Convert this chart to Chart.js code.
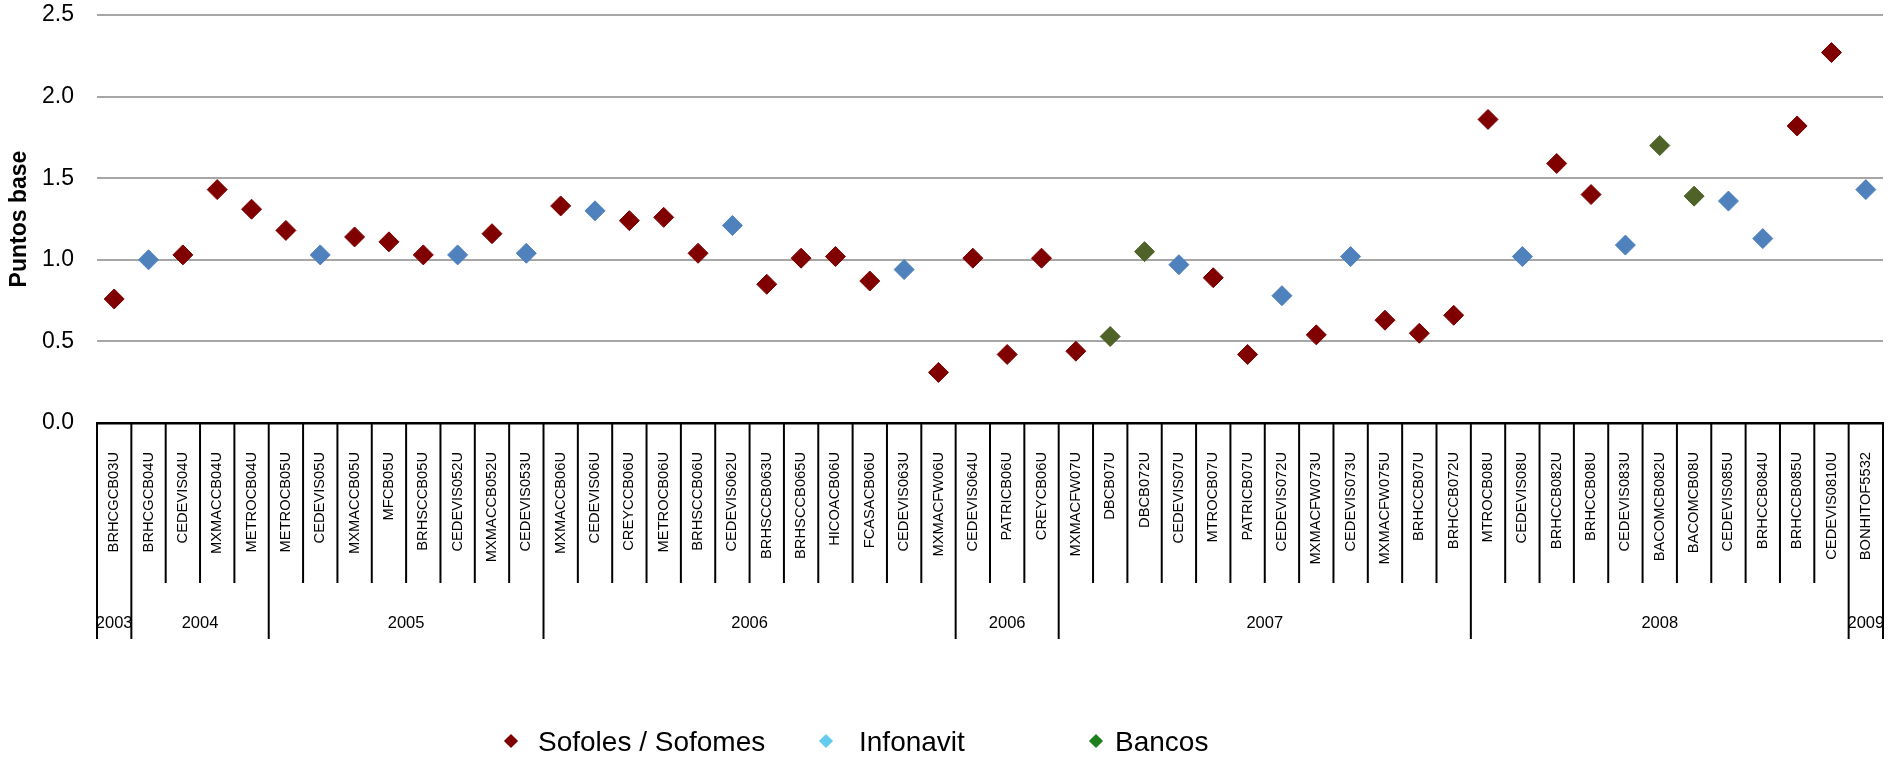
<!DOCTYPE html>
<html lang="es">
<head>
<meta charset="utf-8">
<title>Puntos base por emisión</title>
<script src="https://cdn.jsdelivr.net/npm/chart.js@4.4.1/dist/chart.umd.min.js"></script>
<style>
  html, body { margin: 0; padding: 0; background: #fff; }
  #wrap { position: relative; width: 1894px; height: 760px; overflow: hidden; }
  #chart { position: absolute; left: 0; top: 0; }
  .legend-item { position: absolute; top: 726px; height: 32px; font: 28px "Liberation Sans", Arial, sans-serif; color: #000; line-height: 32px; white-space: nowrap; }
  .legend-mark { position: absolute; width: 10px; height: 10px; transform: rotate(45deg); }
</style>
</head>
<body>
<div id="wrap">
  <canvas id="chart" width="1894" height="760"></canvas>
  <div id="legend"></div>
</div>
<script>
// Emisiones (eje de categorías)
const categories = [
  'BRHCGCB03U', 'BRHCGCB04U', 'CEDEVIS04U', 'MXMACCB04U', 'METROCB04U',
  'METROCB05U', 'CEDEVIS05U', 'MXMACCB05U', 'MFCB05U', 'BRHSCCB05U', 'CEDEVIS052U', 'MXMACCB052U', 'CEDEVIS053U',
  'MXMACCB06U', 'CEDEVIS06U', 'CREYCCB06U', 'METROCB06U', 'BRHSCCB06U', 'CEDEVIS062U', 'BRHSCCB063U', 'BRHSCCB065U',
  'HICOACB06U', 'FCASACB06U', 'CEDEVIS063U', 'MXMACFW06U',
  'CEDEVIS064U', 'PATRICB06U', 'CREYCB06U',
  'MXMACFW07U', 'DBCB07U', 'DBCB072U', 'CEDEVIS07U', 'MTROCB07U', 'PATRICB07U', 'CEDEVIS072U', 'MXMACFW073U',
  'CEDEVIS073U', 'MXMACFW075U', 'BRHCCB07U', 'BRHCCB072U',
  'MTROCB08U', 'CEDEVIS08U', 'BRHCCB082U', 'BRHCCB08U', 'CEDEVIS083U', 'BACOMCB082U', 'BACOMCB08U', 'CEDEVIS085U',
  'BRHCCB084U', 'BRHCCB085U', 'CEDEVIS0810U',
  'BONHITOF5532'
];

// Segundo nivel del eje: año y número de emisiones de cada grupo
const yearLabels = ['2003', '2004', '2005', '2006', '2006', '2007', '2008', '2009'];
const yearCounts = [1, 4, 8, 12, 3, 12, 11, 1];

// Puntos base por tipo de emisor (null = emisión de otro tipo)
const sofoles = [
  0.76, null, 1.03, 1.43, 1.31,
  1.18, null, 1.14, 1.11, 1.03, null, 1.16, null,
  1.33, null, 1.24, 1.26, 1.04, null, 0.85, 1.01,
  1.02, 0.87, null, 0.31,
  1.01, 0.42, 1.01,
  0.44, null, null, null, 0.89, 0.42, null, 0.54,
  null, 0.63, 0.55, 0.66,
  1.86, null, 1.59, 1.40, null, null, null, null,
  null, 1.82, 2.27,
  null
];
const infonavit = [
  null, 1.00, null, null, null,
  null, 1.03, null, null, null, 1.03, null, 1.04,
  null, 1.30, null, null, null, 1.21, null, null,
  null, null, 0.94, null,
  null, null, null,
  null, null, null, 0.97, null, null, 0.78, null,
  1.02, null, null, null,
  null, 1.02, null, null, 1.09, null, null, 1.36,
  1.13, null, null,
  1.43
];
const bancos = [
  null, null, null, null, null,
  null, null, null, null, null, null, null, null,
  null, null, null, null, null, null, null, null,
  null, null, null, null,
  null, null, null,
  null, 0.53, 1.05, null, null, null, null, null,
  null, null, null, null,
  null, null, null, null, null, 1.70, 1.39, null,
  null, null, null,
  null
];

// Ejes y leyenda
const yTicks = ['0.0', '0.5', '1.0', '1.5', '2.0', '2.5'];
const yTitle = 'Puntos base';
const seriesNames = ['Sofoles / Sofomes', 'Infonavit', 'Bancos'];

const COLORS = {
  sofoles: '#800000',
  infonavit: '#4F81BD',
  bancos: '#4F6228'
};
const LEGEND_COLORS = ['#800000', '#66CCEE', '#1E7F1E'];

// Fuente condensada para las etiquetas del eje de categorías
function fontAvailable(name) {
  const c = document.createElement('canvas').getContext('2d');
  const sample = 'MXMACFW073U 2008';
  c.font = '40px monospace';
  const base = c.measureText(sample).width;
  c.font = '40px "' + name + '", monospace';
  return c.measureText(sample).width !== base;
}
const hasNarrow = fontAvailable('Liberation Sans Narrow');
const NARROW_FAMILY = hasNarrow ? '"Liberation Sans Narrow", "Liberation Sans", Arial' : '"Liberation Sans", Arial';
const CAT_SIZE = hasNarrow ? 17.5 : 14.7;
const YEAR_SIZE = hasNarrow ? 18 : 16.5;

function ds(label, data, color) {
  return {
    label: label,
    data: data,
    showLine: false,
    pointStyle: 'rectRot',
    pointRadius: 10,
    pointHoverRadius: 10,
    pointBorderWidth: 1,
    pointBackgroundColor: color,
    pointBorderColor: color,
    backgroundColor: color,
    borderColor: color
  };
}

// Separadores de emisiones y de años bajo el eje, con el rótulo del año
const yearGroupsPlugin = {
  id: 'yearGroups',
  afterDraw(chart) {
    const xs = chart.scales.x;
    const ctx = chart.ctx;
    const n = categories.length;
    const half = (xs.getPixelForValue(1) - xs.getPixelForValue(0)) / 2;
    const top = xs.top;
    const catBottom = top + 160;
    const yearBottom = top + 216;
    const edge = i => (i < n ? xs.getPixelForValue(i) - half : xs.getPixelForValue(n - 1) + half);

    const starts = new Set();
    let acc = 0;
    yearCounts.forEach(c => { starts.add(acc); acc += c; });
    starts.add(n);

    ctx.save();
    ctx.strokeStyle = '#000';
    ctx.lineWidth = 2;
    for (let i = 0; i <= n; i++) {
      const px = edge(i);
      ctx.beginPath();
      ctx.moveTo(px, top);
      ctx.lineTo(px, starts.has(i) ? yearBottom : catBottom);
      ctx.stroke();
    }

    ctx.fillStyle = '#000';
    ctx.font = YEAR_SIZE + 'px ' + NARROW_FAMILY;
    ctx.textAlign = 'center';
    ctx.textBaseline = 'middle';
    let s = 0;
    yearLabels.forEach((lab, k) => {
      const e = s + yearCounts[k];
      const cx = (edge(s) + edge(e)) / 2;
      ctx.fillText(lab, cx, top + 200);
      s = e;
    });
    ctx.restore();
  }
};

new Chart(document.getElementById('chart'), {
  type: 'line',
  data: {
    labels: categories,
    datasets: [
      ds(seriesNames[0], sofoles, COLORS.sofoles),
      ds(seriesNames[1], infonavit, COLORS.infonavit),
      ds(seriesNames[2], bancos, COLORS.bancos)
    ]
  },
  options: {
    responsive: false,
    devicePixelRatio: 1,
    animation: false,
    layout: { padding: { top: 15, right: 3, left: 0, bottom: 0 } },
    plugins: {
      legend: { display: false },
      tooltip: { enabled: false }
    },
    scales: {
      x: {
        type: 'category',
        offset: true,
        grid: { display: false, drawTicks: false },
        border: { display: true, color: '#000', width: 2.5 },
        ticks: {
          autoSkip: false,
          minRotation: 90,
          maxRotation: 90,
          padding: 29,
          color: '#000',
          font: { family: NARROW_FAMILY, size: CAT_SIZE }
        },
        afterFit(scale) {
          scale.height = 337;
          scale.paddingLeft = 0;
          scale.paddingRight = 0;
        }
      },
      y: {
        min: 0,
        max: 2.5,
        grid: {
          drawTicks: false,
          lineWidth: 2,
          color: ctx => (ctx.tick && ctx.tick.value === 0 ? 'rgba(0,0,0,0)' : '#A6A6A6')
        },
        border: { display: false },
        ticks: {
          stepSize: 0.5,
          padding: 23,
          color: '#000',
          font: { family: '"Liberation Sans", Arial, sans-serif', size: 23 },
          callback: (v, i) => yTicks[i]
        },
        title: {
          display: true,
          text: yTitle,
          color: '#000',
          padding: { top: 6, bottom: 0 },
          font: { family: '"Liberation Sans", Arial, sans-serif', size: 23, weight: 'bold' }
        },
        afterFit(scale) {
          scale.width = 97;
          scale.paddingTop = 0;
          scale.paddingBottom = 0;
        }
      }
    }
  },
  plugins: [yearGroupsPlugin]
});

// Leyenda inferior
const legendPos = [
  { mark: 511, text: 538 },
  { mark: 826, text: 859 },
  { mark: 1096, text: 1115 }
];
const legend = document.getElementById('legend');
seriesNames.forEach((name, i) => {
  const m = document.createElement('span');
  m.className = 'legend-mark';
  m.style.background = LEGEND_COLORS[i];
  m.style.left = (legendPos[i].mark - 5) + 'px';
  m.style.top = '736px';
  legend.appendChild(m);
  const t = document.createElement('span');
  t.className = 'legend-item';
  t.style.left = legendPos[i].text + 'px';
  t.textContent = name;
  legend.appendChild(t);
});
</script>
</body>
</html>
